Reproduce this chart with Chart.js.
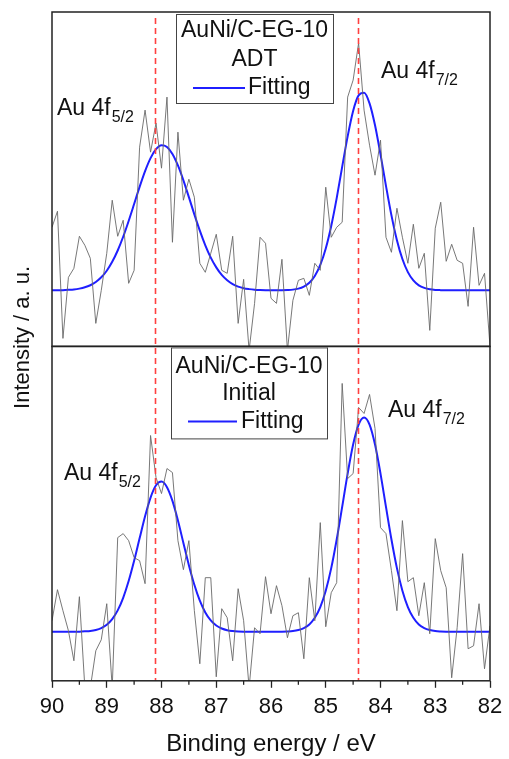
<!DOCTYPE html>
<html>
<head>
<meta charset="utf-8">
<script src="https://cdn.jsdelivr.net/npm/chart.js@4.4.1/dist/chart.umd.min.js"></script>
<style>
  html, body { margin: 0; padding: 0; background: #ffffff; }
  #wrap { position: relative; width: 509px; height: 759px; }
  canvas { display: block; }
</style>
</head>
<body>
<div id="wrap"><canvas id="c" width="509" height="759"></canvas></div>
<script>
// Binding energy (eV), 0.1 eV steps
const energies = [90.0,89.9,89.8,89.7,89.6,89.5,89.4,89.3,89.2,89.1,
  89.0,88.9,88.8,88.7,88.6,88.5,88.4,88.3,88.2,88.1,
  88.0,87.9,87.8,87.7,87.6,87.5,87.4,87.3,87.2,87.1,
  87.0,86.9,86.8,86.7,86.6,86.5,86.4,86.3,86.2,86.1,
  86.0,85.9,85.8,85.7,85.6,85.5,85.4,85.3,85.2,85.1,
  85.0,84.9,84.8,84.7,84.6,84.5,84.4,84.3,84.2,84.1,
  84.0,83.9,83.8,83.7,83.6,83.5,83.4,83.3,83.2,83.1,
  83.0,82.9,82.8,82.7,82.6,82.5,82.4,82.3,82.2,82.1,
  82.0];

// Top panel: AuNi/C-EG-10 ADT (intensity, a.u.)
const adtRaw = [119,135,8,69,78,110,101,88,23,56,
  93,146,110,126,63,76,199,236,194,223,
  178,249,104,214,146,167,149,83,74,93,
  112,76,73,110,23,67,-4,43,109,103,
  48,43,87,-4,46,66,68,51,83,76,
  159,109,119,124,249,266,303,236,201,171,
  206,109,94,138,109,83,122,78,93,16,
  118,144,85,102,86,83,40,119,61,73,
  0];
const adtFit = [56.0,56.1,56.2,56.5,56.9,57.7,59.0,61.1,64.3,69.0,
  75.6,84.5,95.8,109.5,125.3,142.2,159.3,175.1,188.1,197.0,
  200.9,199.2,192.2,180.7,165.9,149.1,131.9,115.6,101.0,88.7,
  78.9,71.4,66.0,62.2,59.7,58.1,57.2,56.6,56.3,56.1,
  56.0,56.0,56.1,56.3,56.7,57.7,59.8,63.6,70.4,81.4,
  97.8,120.3,148.1,179.3,209.8,235.2,250.7,253.4,242.8,220.9,
  191.8,160.4,130.9,106.1,87.3,74.2,65.9,61.0,58.4,57.0,
  56.4,56.2,56.1,56.0,56.0,56.0,56.0,56.0,56.0,56.0,
  56.0];

// Bottom panel: AuNi/C-EG-10 Initial
const initialRaw = [60,91,70,50,20,84,-7,-7,30,41,
  77,-7,143,147,140,123,120,97,245,203,
  187,212,208,140,111,140,70,17,103,103,
  4,72,63,20,92,60,-7,53,47,104,
  67,95,75,43,65,68,22,103,60,158,
  54,88,98,297,202,207,273,267,286,252,
  153,147,110,70,160,99,103,65,98,47,
  142,110,93,3,53,127,32,35,77,12,
  55];
const initialFit = [49,49,49,49,49,49.1,49.4,49.8,50.8,52.7,
  56.0,61.6,70.3,82.9,99.6,119.8,142.3,164.3,183.0,195.3,
  199.0,193.4,179.7,160.1,137.7,115.5,95.9,80.0,68.3,60.3,
  55.2,52.2,50.5,49.7,49.3,49.1,49,49,49,49,
  49,49,49.1,49.3,49.7,50.7,52.6,56.3,62.9,73.7,
  90.0,112.5,141.1,173.7,207.0,236.0,255.9,263.0,255.9,236.0,
  207.0,173.7,141.1,112.5,90.0,73.7,62.9,56.3,52.6,50.7,
  49.7,49.3,49.1,49,49,49,49,49,49,49,
  49];

// Reference peak positions (red dashed lines)
const refLines = [88.11, 84.42];
// Axis ticks
const xTicks = [90, 89, 88, 87, 86, 85, 84, 83, 82];
const intensityRange = [0, 334];

const FONT = "'Liberation Sans', Arial, Helvetica, sans-serif";

function pts(ys) { return energies.map((e, i) => ({ x: e, y: ys[i] })); }

const panelClip = {
  id: 'panelClip',
  beforeDatasetDraw(chart, args) {
    const ys = chart.scales[args.meta.yAxisID];
    const ca = chart.chartArea;
    const ctx = chart.ctx;
    ctx.save();
    ctx.beginPath();
    ctx.rect(ca.left, ys.top, ca.right - ca.left, ys.bottom - ys.top);
    ctx.clip();
  },
  afterDatasetDraw(chart) { chart.ctx.restore(); }
};

function drawSubLabel(ctx, x, y, main, sub) {
  ctx.font = '23px ' + FONT;
  ctx.textAlign = 'left';
  ctx.textBaseline = 'alphabetic';
  ctx.fillStyle = '#111';
  ctx.fillText(main, x, y);
  const w = ctx.measureText(main).width;
  ctx.font = '16px ' + FONT;
  ctx.fillText(sub, x + w + 1, y + 7);
}

function drawLegend(ctx, bx, by, bw, bh, line1, line2, mids, lineX0, lineX1, textX) {
  ctx.save();
  ctx.fillStyle = '#ffffff';
  ctx.fillRect(bx, by, bw, bh);
  ctx.strokeStyle = '#444';
  ctx.lineWidth = 1;
  ctx.strokeRect(bx + 0.5, by + 0.5, bw, bh);
  ctx.fillStyle = '#111';
  ctx.font = '23px ' + FONT;
  ctx.textAlign = 'center';
  ctx.textBaseline = 'middle';
  ctx.fillText(line1, bx + bw / 2, by + mids[0]);
  ctx.fillText(line2, bx + bw / 2, by + mids[1]);
  ctx.strokeStyle = '#1f1fff';
  ctx.lineWidth = 2;
  ctx.beginPath();
  ctx.moveTo(bx + lineX0, by + mids[2]);
  ctx.lineTo(bx + lineX1, by + mids[2]);
  ctx.stroke();
  ctx.textAlign = 'left';
  ctx.fillText('Fitting', bx + textX, by + mids[2]);
  ctx.restore();
}

const decor = {
  id: 'decor',
  afterDatasetsDraw(chart) {
    const ctx = chart.ctx, ca = chart.chartArea, xs = chart.scales.x;
    ctx.save();
    ctx.strokeStyle = '#ff4040';
    ctx.lineWidth = 1.6;
    ctx.setLineDash([6, 4]);
    refLines.forEach(v => {
      const px = Math.round(xs.getPixelForValue(v)) + 0.5;
      ctx.beginPath();
      ctx.moveTo(px, ca.top + 6);
      ctx.lineTo(px, ca.bottom);
      ctx.stroke();
    });
    ctx.restore();
  },
  afterDraw(chart) {
    const ctx = chart.ctx, ca = chart.chartArea, xs = chart.scales.x;
    const yt = chart.scales.yTop, yb = chart.scales.yBot;
    ctx.save();
    // panel frames
    ctx.strokeStyle = '#222';
    ctx.lineWidth = 1.5;
    ctx.strokeRect(ca.left, yt.top, ca.right - ca.left, yt.bottom - yt.top);
    ctx.strokeRect(ca.left, yb.top, ca.right - ca.left, yb.bottom - yb.top);
    // minor ticks
    ctx.lineWidth = 1.3;
    for (let i = 0; i < xTicks.length - 1; i++) {
      const v = (xTicks[i] + xTicks[i + 1]) / 2;
      const px = xs.getPixelForValue(v);
      ctx.beginPath();
      ctx.moveTo(px, ca.bottom);
      ctx.lineTo(px, ca.bottom + 4);
      ctx.stroke();
    }
    // legends
    drawLegend(ctx, ca.left + 124, yt.top + 2, 157, 89, 'AuNi/C-EG-10', 'ADT', [17, 46, 74], 17, 69, 72);
    drawLegend(ctx, ca.left + 119, yb.top + 1, 156, 91, 'AuNi/C-EG-10', 'Initial', [19, 46, 74], 17, 66, 70);
    // peak labels
    drawSubLabel(ctx, ca.left + 5, yt.top + 103, 'Au 4f', '5/2');
    drawSubLabel(ctx, ca.left + 329, yt.top + 66, 'Au 4f', '7/2');
    drawSubLabel(ctx, ca.left + 12, yb.top + 134, 'Au 4f', '5/2');
    drawSubLabel(ctx, ca.left + 336, yb.top + 71, 'Au 4f', '7/2');
    // y title
    ctx.translate(23, (yt.top + yb.bottom) / 2 - 9);
    ctx.rotate(-Math.PI / 2);
    ctx.font = '22px ' + FONT;
    ctx.fillStyle = '#111';
    ctx.textAlign = 'center';
    ctx.textBaseline = 'middle';
    ctx.fillText('Intensity / a. u.', 0, 0);
    ctx.restore();
  }
};

const yCommon = {
  type: 'linear', position: 'left', stack: 'xps', stackWeight: 1,
  min: intensityRange[0], max: intensityRange[1],
  ticks: { display: false },
  grid: { display: false, drawTicks: false },
  border: { display: false }
};

new Chart(document.getElementById('c'), {
  type: 'line',
  data: {
    datasets: [
      { label: 'ADT raw', data: pts(adtRaw), yAxisID: 'yTop', borderColor: 'rgba(105,105,105,0.9)', borderWidth: 1, pointRadius: 0, tension: 0 },
      { label: 'ADT Fitting', data: pts(adtFit), yAxisID: 'yTop', borderColor: '#1f1fff', borderWidth: 2, pointRadius: 0, tension: 0.4, cubicInterpolationMode: 'monotone' },
      { label: 'Initial raw', data: pts(initialRaw), yAxisID: 'yBot', borderColor: 'rgba(105,105,105,0.9)', borderWidth: 1, pointRadius: 0, tension: 0 },
      { label: 'Initial Fitting', data: pts(initialFit), yAxisID: 'yBot', borderColor: '#1f1fff', borderWidth: 2, pointRadius: 0, tension: 0.4, cubicInterpolationMode: 'monotone' }
    ]
  },
  options: {
    responsive: false,
    animation: false,
    devicePixelRatio: 1,
    layout: { padding: { left: 52, right: 19, top: 12, bottom: 0 } },
    plugins: { legend: { display: false }, tooltip: { enabled: false } },
    scales: {
      x: {
        type: 'linear', position: 'bottom', reverse: true,
        min: xTicks[xTicks.length - 1], max: xTicks[0],
        afterBuildTicks: (s) => { s.ticks = xTicks.map(v => ({ value: v })); },
        ticks: { font: { family: FONT, size: 22 }, color: '#111', padding: 6, maxRotation: 0, autoSkip: false,
                 callback: (v) => String(v) },
        grid: { drawOnChartArea: false, drawTicks: true, tickLength: 7, tickColor: '#222', tickWidth: 1.3 },
        border: { display: false },
        title: { display: true, text: 'Binding energy / eV', font: { family: FONT, size: 24 }, color: '#111', padding: { top: 4, bottom: 0 } }
      },
      yTop: Object.assign({}, yCommon, { weight: 2 }),
      yBot: Object.assign({}, yCommon, { weight: 1 })
    }
  },
  plugins: [panelClip, decor]
});
</script>
</body>
</html>
